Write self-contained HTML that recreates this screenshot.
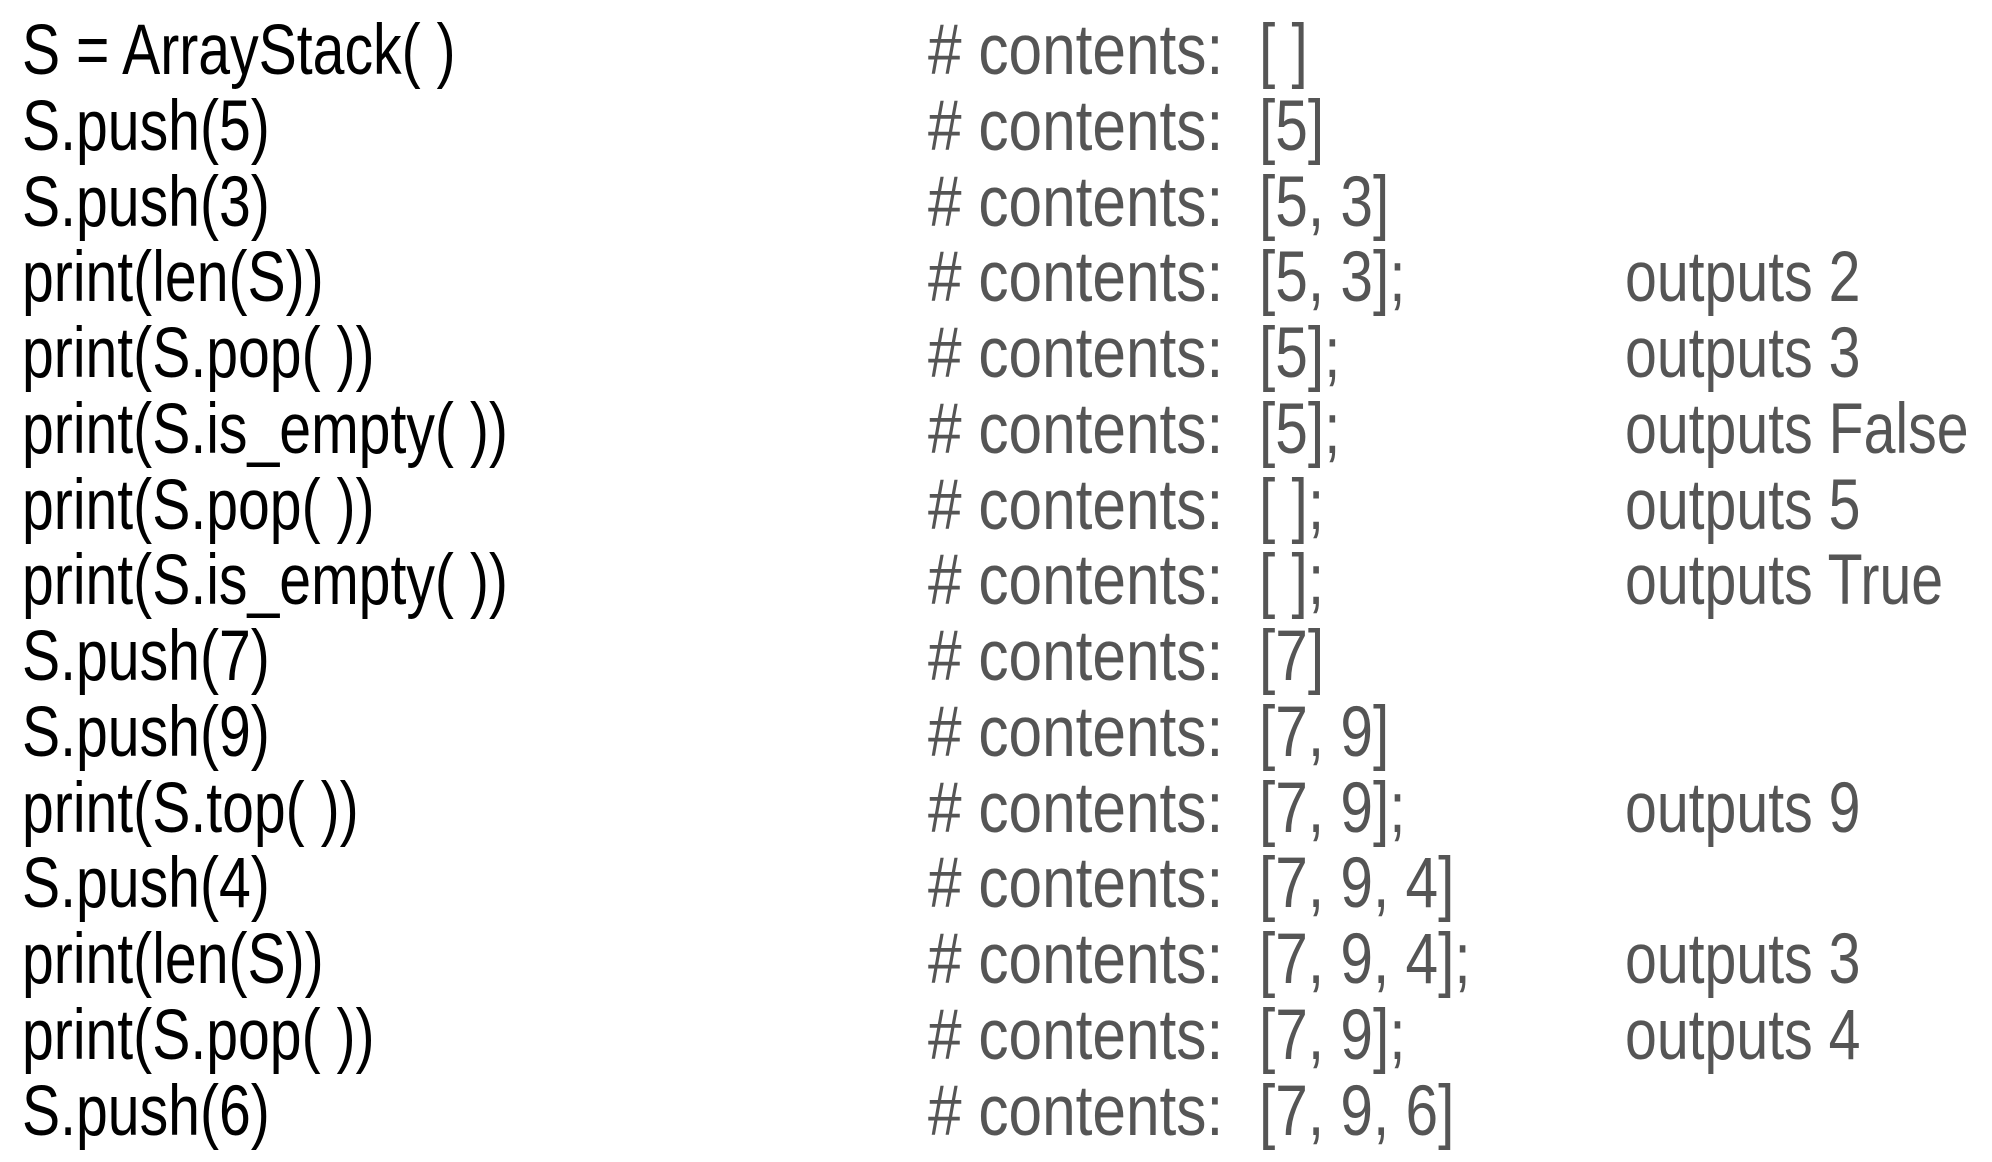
<!DOCTYPE html>
<html><head><meta charset="utf-8"><style>
html,body{margin:0;padding:0;background:#fff;width:1992px;height:1162px;overflow:hidden}
.r{position:absolute;left:0;width:1992px;height:76px;font-family:"Liberation Sans",sans-serif;font-size:71px;line-height:76px;white-space:pre}
.r span{position:absolute;top:0;transform-origin:0 0}
.c{left:22px;color:#000;transform:scaleX(0.805)}
.h{left:928px;color:#555;transform:scaleX(0.85)}
.b{left:1259px;color:#555;transform:scaleX(0.825)}
.o{left:1625px;color:#555;transform:scaleX(0.806)}
</style></head><body>
<div class="r" style="top:13px"><span class="c">S = ArrayStack( )</span><span class="h"># contents:</span><span class="b">[ ]</span></div>
<div class="r" style="top:89px"><span class="c">S.push(5)</span><span class="h"># contents:</span><span class="b">[5]</span></div>
<div class="r" style="top:165px"><span class="c">S.push(3)</span><span class="h"># contents:</span><span class="b">[5, 3]</span></div>
<div class="r" style="top:240px"><span class="c">print(len(S))</span><span class="h"># contents:</span><span class="b">[5, 3];</span><span class="o">outputs 2</span></div>
<div class="r" style="top:316px"><span class="c">print(S.pop( ))</span><span class="h"># contents:</span><span class="b">[5];</span><span class="o">outputs 3</span></div>
<div class="r" style="top:392px"><span class="c">print(S.is_empty( ))</span><span class="h"># contents:</span><span class="b">[5];</span><span class="o">outputs False</span></div>
<div class="r" style="top:468px"><span class="c">print(S.pop( ))</span><span class="h"># contents:</span><span class="b">[ ];</span><span class="o">outputs 5</span></div>
<div class="r" style="top:543px"><span class="c">print(S.is_empty( ))</span><span class="h"># contents:</span><span class="b">[ ];</span><span class="o">outputs True</span></div>
<div class="r" style="top:619px"><span class="c">S.push(7)</span><span class="h"># contents:</span><span class="b">[7]</span></div>
<div class="r" style="top:695px"><span class="c">S.push(9)</span><span class="h"># contents:</span><span class="b">[7, 9]</span></div>
<div class="r" style="top:771px"><span class="c">print(S.top( ))</span><span class="h"># contents:</span><span class="b">[7, 9];</span><span class="o">outputs 9</span></div>
<div class="r" style="top:846px"><span class="c">S.push(4)</span><span class="h"># contents:</span><span class="b">[7, 9, 4]</span></div>
<div class="r" style="top:922px"><span class="c">print(len(S))</span><span class="h"># contents:</span><span class="b">[7, 9, 4];</span><span class="o">outputs 3</span></div>
<div class="r" style="top:998px"><span class="c">print(S.pop( ))</span><span class="h"># contents:</span><span class="b">[7, 9];</span><span class="o">outputs 4</span></div>
<div class="r" style="top:1074px"><span class="c">S.push(6)</span><span class="h"># contents:</span><span class="b">[7, 9, 6]</span></div>
</body></html>
